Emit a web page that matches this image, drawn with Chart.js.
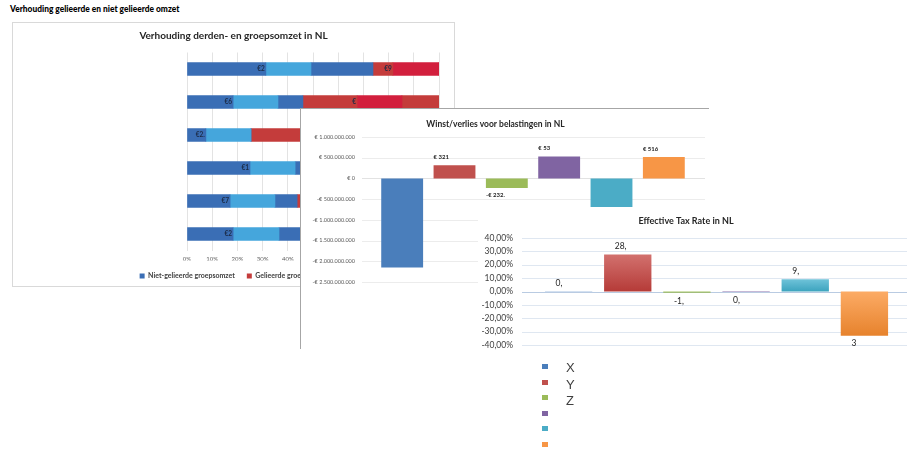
<!DOCTYPE html>
<html lang="nl">
<head>
<meta charset="UTF-8">
<title>Verhouding gelieerde en niet gelieerde omzet</title>
<script src="https://cdn.jsdelivr.net/npm/chart.js"></script>
<style>
  body { margin:0; width:907px; height:455px; background:#fff; position:relative; overflow:hidden; font-family: Lato, sans-serif; }
  .panel { position:absolute; background:#fff; }
  canvas { display:block; }
  #kop { position:absolute; left:10px; top:4px; font-weight:900; font-size:8.4px; color:#000; white-space:nowrap; }
  #p1 { left:12px; top:22px; border:1px solid #d9d9d9; }
  #p2 { left:300px; top:108px; border-left:1px solid #a6a6a6; border-top:1px solid #a6a6a6; }
  #p3 { left:478px; top:207px; }
  #legenda3 { position:absolute; left:542px; top:364px; }
  #legenda3 .blok { position:absolute; left:0; width:6px; height:5px; }
  #legenda3 .tekst { position:absolute; left:24px; font-family:"Liberation Sans", Arial, sans-serif; font-size:13px; color:#404040; line-height:13px; }
</style>
</head>
<body>
<div id="kop">Verhouding gelieerde en niet gelieerde omzet</div>

<div class="panel" id="p1"><canvas id="omzetChart" width="441" height="263"></canvas></div>
<div class="panel" id="p2"><canvas id="winstChart" width="408" height="240"></canvas></div>
<div class="panel" id="p3"><canvas id="taxChart" width="429" height="148"></canvas></div>
<div id="legenda3"></div>

<script>
  // Verhouding derden- en groepsomzet (stukken in % van de balk)
  const omzetRijen = ['', '', '', '', '', ''];
  const nietGelieerdA = [31.3, 18.3, 7.5, 25.0, 17.1, 18.3];
  const overlayBlauw  = [17.9, 17.8, 17.9, 17.9, 17.8, 18.2];
  const nietGelieerdB = [24.6, 9.9, 0, 20.0, 8.8, 25.0];
  const gelieerdA     = [7.9, 21.5, 35.0, 15.0, 30.0, 16.0];
  const overlayRood   = [18.3, 17.8, 17.0, 17.0, 17.0, 17.0];
  const gelieerdB     = [0, 14.7, 22.6, 5.1, 9.3, 5.5];
  const labelsBlauw = ['€2', '€6', '€2.', '€1', '€7', '€2'];
  const labelsRood  = ['€9', '€', '', '', '', ''];

  // Winst/verlies voor belastingen
  const winstCategorieen = ['', '', '', '', '', ''];
  const winstVerlies = [-2150000000, 321000000, -232000000, 530000000, -800000000, 516000000];
  const winstLabels = ['', '€ 321', '-€ 232.', '€ 53', '', '€ 516'];

  // Effective tax rate
  const taxCategorieen = ['X', 'Y', 'Z', '', '', ''];
  const taxRate = [0.1, 27.6, -1.0, -0.3, 9.2, -33.0];
  const taxLabels = ['0,', '28,', '-1,', '0,', '9,', '3'];

  const kleuren = ['#4a7ebb', '#c0504d', '#9bbb59', '#8064a2', '#4bacc6', '#f79646'];
  const verlopen = [
    ['#5a8ccb', '#3f73b3'], ['#d2716e', '#b53a37'], ['#a6c566', '#8dae4b'],
    ['#8c72ad', '#735796'], ['#6fc3d9', '#3aa2bd'], ['#fcab65', '#e6822c']
  ];

  // horizontale rasterlijnen breder dan het plotgebied
  const rasterPlugin = {
    id: 'raster',
    beforeDatasetsDraw(chart, args, opts) {
      const {ctx} = chart;
      const y = chart.scales.y;
      ctx.save();
      ctx.lineWidth = 1;
      y.ticks.forEach(t => {
        const py = Math.round(y.getPixelForValue(t.value)) + 0.5;
        ctx.strokeStyle = t.value === 0 ? opts.zero : opts.color;
        ctx.beginPath();
        ctx.moveTo(opts.from, py);
        ctx.lineTo(opts.to, py);
        ctx.stroke();
      });
      ctx.restore();
    }
  };

  // Chart 1
  const omzetLabelPlugin = {
    id: 'omzetLabels',
    afterDatasetsDraw(chart) {
      const {ctx} = chart;
      const x = chart.scales.x;
      const meta = chart.getDatasetMeta(0);
      ctx.save();
      ctx.font = 'bold 6.5px Lato';
      ctx.fillStyle = '#1b2a44';
      ctx.textAlign = 'right';
      ctx.textBaseline = 'middle';
      omzetRijen.forEach((r, i) => {
        const y = meta.data[i].y;
        ctx.fillText(labelsBlauw[i], x.getPixelForValue(nietGelieerdA[i]) - 1, y);
        const eindRood = nietGelieerdA[i] + overlayBlauw[i] + nietGelieerdB[i] + gelieerdA[i];
        ctx.fillText(labelsRood[i], x.getPixelForValue(eindRood) - 1, y);
      });
      ctx.restore();
    }
  };

  new Chart(document.getElementById('omzetChart'), {
    type: 'bar',
    data: {
      labels: omzetRijen,
      datasets: [
        { label: 'Niet-gelieerde groepsomzet', data: nietGelieerdA, backgroundColor: '#3a6eb5' },
        { label: '', data: overlayBlauw, backgroundColor: '#45a6dc' },
        { label: '', data: nietGelieerdB, backgroundColor: '#3a6eb5' },
        { label: 'Gelieerde groepsomzet', data: gelieerdA, backgroundColor: '#c43c3b' },
        { label: '', data: overlayRood, backgroundColor: '#d21f3d' },
        { label: '', data: gelieerdB, backgroundColor: '#c43c3b' }
      ]
    },
    options: {
      indexAxis: 'y',
      responsive: false,
      animation: false,
      barThickness: 13,
      layout: { padding: { left: 15, right: 15, top: 0, bottom: -3.5 } },
      plugins: {
        title: { display: true, text: 'Verhouding derden- en groepsomzet in NL', color: '#262626',
          font: { family: 'Lato', size: 10, weight: 'bold', lineHeight: 1.2 }, padding: { top: 7, bottom: 10.5 } },
        legend: { position: 'bottom',
          labels: { filter: item => item.text !== '', boxWidth: 5, boxHeight: 5, padding: 12, color: '#404040',
            font: { family: 'Lato', size: 7, weight: 'bold' } } },
        tooltip: { enabled: false }
      },
      scales: {
        x: { stacked: true, min: 0, max: 100,
          ticks: { stepSize: 10, callback: v => v + '%', color: '#595959', padding: 5, font: { family: 'Lato', size: 6 } },
          grid: { color: '#e3e3e3', drawTicks: false }, border: { display: false },
          afterFit: s => { s.height = 10; } },
        y: { stacked: true, ticks: { display: false }, grid: { display: false, drawTicks: false },
          border: { display: false }, afterFit: s => { s.width = 159; } }
      }
    },
    plugins: [omzetLabelPlugin]
  });

  // Chart 2
  const euro = v => (v < 0 ? '-' : '') + '€ ' + String(Math.abs(v)).replace(/\B(?=(\d{3})+(?!\d))/g, '.');

  const winstLabelPlugin = {
    id: 'winstLabels',
    afterDatasetsDraw(chart) {
      const {ctx} = chart;
      const meta = chart.getDatasetMeta(0);
      ctx.save();
      ctx.font = 'bold 6px Lato';
      ctx.fillStyle = '#262626';
      ctx.textAlign = 'left';
      ctx.textBaseline = 'middle';
      meta.data.forEach((bar, i) => {
        const links = bar.x - bar.width / 2;
        const y = winstVerlies[i] >= 0 ? bar.y - 8 : bar.y + 7;
        ctx.fillText(winstLabels[i], links, y);
      });
      ctx.restore();
    }
  };

  new Chart(document.getElementById('winstChart'), {
    type: 'bar',
    data: {
      labels: winstCategorieen,
      datasets: [{ data: winstVerlies, backgroundColor: kleuren, categoryPercentage: 1, barPercentage: 0.8 }]
    },
    options: {
      responsive: false,
      animation: false,
      layout: { padding: { left: 0, right: 19, top: 0, bottom: 67 } },
      plugins: {
        title: { display: true, text: 'Winst/verlies voor belastingen in NL', color: '#262626',
          font: { family: 'Lato', size: 8.5, weight: 'bold', lineHeight: 1.2 }, padding: { top: 9.9, bottom: 7.9 } },
        legend: { display: false },
        tooltip: { enabled: false },
        raster: { from: 61, to: 404, color: '#ececec', zero: '#e2e2e2' }
      },
      scales: {
        x: { display: false },
        y: { min: -2500000000, max: 1000000000,
          ticks: { stepSize: 500000000, callback: euro, color: '#595959', padding: 3, font: { family: 'Lato', size: 5.5 } },
          grid: { display: false, drawTicks: true, tickLength: 18 }, border: { display: false },
          afterFit: s => { s.width = 75; } }
      }
    },
    plugins: [rasterPlugin, winstLabelPlugin]
  });

  // Chart 3
  const verloopKleur = c => {
    const {chart, dataIndex} = c;
    const paar = verlopen[dataIndex];
    if (!chart.chartArea || !chart.scales.y) return paar[1];
    const y = chart.scales.y;
    const y0 = y.getPixelForValue(0);
    const y1 = y.getPixelForValue(taxRate[dataIndex]);
    const g = chart.ctx.createLinearGradient(0, Math.min(y0, y1), 0, Math.max(y0, y1) + 0.5);
    g.addColorStop(0, paar[0]);
    g.addColorStop(1, paar[1]);
    return g;
  };

  const taxLabelPlugin = {
    id: 'taxLabels',
    afterDatasetsDraw(chart) {
      const {ctx} = chart;
      const meta = chart.getDatasetMeta(0);
      ctx.save();
      ctx.font = '8.5px Lato';
      ctx.fillStyle = '#262626';
      ctx.textAlign = 'left';
      ctx.textBaseline = 'middle';
      meta.data.forEach((bar, i) => {
        const y = taxRate[i] >= 0 ? bar.y - 8 : bar.y + 8;
        ctx.fillText(taxLabels[i], bar.x - 13, y);
      });
      ctx.restore();
    }
  };

  new Chart(document.getElementById('taxChart'), {
    type: 'bar',
    data: {
      labels: taxCategorieen,
      datasets: [{ data: taxRate, backgroundColor: verloopKleur, categoryPercentage: 1, barPercentage: 0.8 }]
    },
    options: {
      responsive: false,
      animation: false,
      layout: { padding: { left: 0, right: 13, top: 0, bottom: 10 } },
      plugins: {
        title: { display: true, text: 'Effective Tax Rate in NL', color: '#262626',
          font: { family: 'Lato', size: 9, weight: 'bold', lineHeight: 1.2 }, padding: { top: 8.6, bottom: 11.6 } },
        legend: { display: false },
        tooltip: { enabled: false },
        raster: { from: 44, to: 429, color: '#dfe7f1', zero: '#b9cbe2' }
      },
      scales: {
        x: { display: false },
        y: { min: -40, max: 40,
          ticks: { stepSize: 10, callback: v => v.toFixed(2).replace('.', ',') + '%', color: '#404040', padding: 3,
            font: { family: 'Lato', size: 8.5 } },
          grid: { display: false, drawTicks: true, tickLength: 23 }, border: { display: false },
          afterFit: s => { s.width = 61; } }
      }
    },
    plugins: [rasterPlugin, taxLabelPlugin]
  });

  // legenda onder de tax chart
  const legenda = document.getElementById('legenda3');
  taxCategorieen.forEach((naam, i) => {
    const blok = document.createElement('div');
    blok.className = 'blok';
    blok.style.top = (i * 15.6) + 'px';
    blok.style.background = kleuren[i];
    legenda.appendChild(blok);
    if (naam) {
      const t = document.createElement('div');
      t.className = 'tekst';
      t.style.top = (i * 16.5 - 3) + 'px';
      t.textContent = naam;
      legenda.appendChild(t);
    }
  });
</script>
</body>
</html>
